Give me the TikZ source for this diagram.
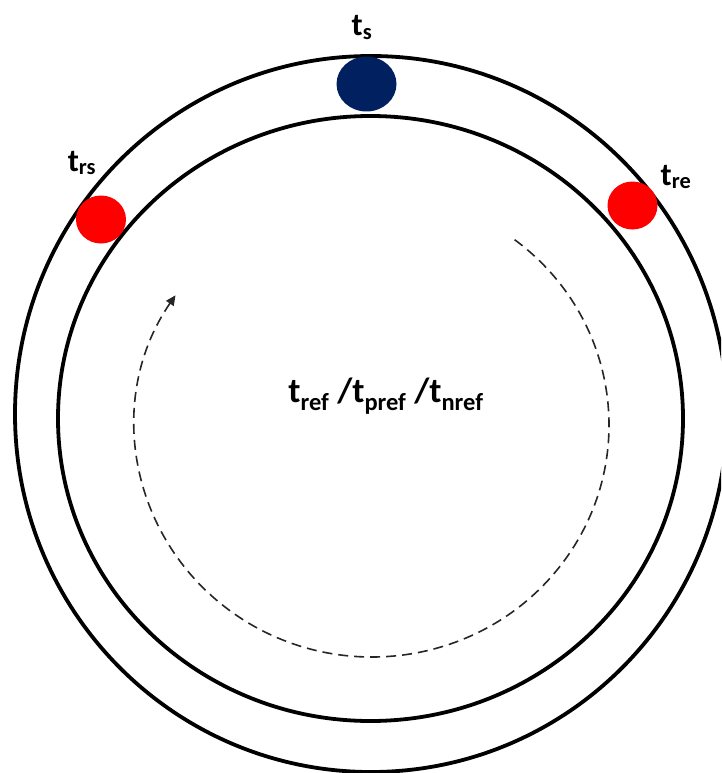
\documentclass[tikz,border=0pt]{standalone}
\usepackage{fontspec}
\setmainfont{Carlito}
\usetikzlibrary{shapes.geometric,arrows.meta,calc}
\definecolor{navy}{HTML}{002060}
\definecolor{dotred}{HTML}{FF0000}
\tikzset{
  ring/.style={ellipse, draw=black, line width=3.8pt, inner sep=0pt},
  dot/.style={ellipse, inner sep=0pt, draw=none},
  lbl/.style={font=\fontsize{32}{36}\selectfont\bfseries, inner sep=0pt, anchor=base},
  flow/.style={dashed, dash pattern=on 10pt off 6pt, line width=1.6pt, draw=black!85}
}
\begin{document}
\begin{tikzpicture}[x=1pt,y=-1pt]
\useasboundingbox (0,0) rectangle (721,773);
\begin{scope}
\clip (0,0) rectangle (721,773);
\node[ring, minimum width=712pt, minimum height=716pt] (outer) at (371,414) {};
\node[ring, minimum width=625pt, minimum height=605pt] (inner) at (370.5,418.5) {};
\end{scope}
\node[dot, fill=navy, minimum width=60pt, minimum height=55pt] (ts) at (366.5,84) {};
\node[dot, fill=dotred, minimum width=50pt, minimum height=48pt] (trs) at (101,219.5) {};
\node[dot, fill=dotred, minimum width=50pt, minimum height=48pt] (tre) at (632.5,205.5) {};
\node[lbl] (lts) at (362,36) {t\textsubscript{s}};
\node[lbl] (ltrs) at (82,171) {t\textsubscript{rs}};
\node[lbl] (ltre) at (676,185) {t\textsubscript{re}};
\node[lbl, font=\fontsize{35}{40}\selectfont\bfseries] (center) at (386,402) {t\textsubscript{ref} /t\textsubscript{pref} /t\textsubscript{nref}};
\coordinate (fc) at (372,425);
\coordinate (fs) at ($(fc)+({237*cos(-53)},{232*sin(-53)})$);
\draw[flow, -{Triangle[length=10pt,width=9pt]}] (fs) arc[start angle=-53, end angle=214, x radius=237, y radius=232];
\end{tikzpicture}
\end{document}
